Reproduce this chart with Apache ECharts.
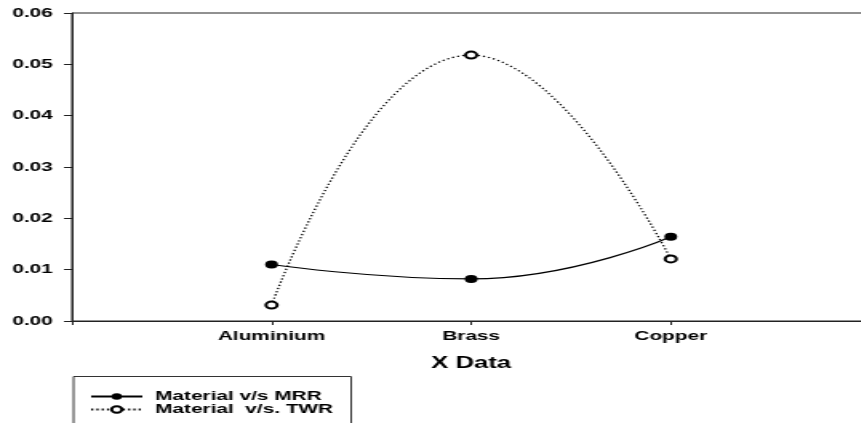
<!DOCTYPE html>
<html>
<head>
<meta charset="utf-8">
<script src="https://cdn.jsdelivr.net/npm/echarts@6/dist/echarts.min.js"></script>
<style>
  html, body { margin: 0; padding: 0; background: #fff; overflow: hidden; }
  /* the original picture is stretched sideways, so draw narrow and stretch */
  #main { width: 538px; height: 423px; transform: scaleX(1.6); transform-origin: 0 0; }
</style>
</head>
<body>
<div id="main"></div>
<script>
// data
var categories = ['Aluminium', 'Brass', 'Copper'];
var mrrValues = [0.0110, 0.0082, 0.0164];
var twrValues = [0.0031, 0.0518, 0.0121];
var yTicks = [0, 0.01, 0.02, 0.03, 0.04, 0.05, 0.06];

var font = 'Liberation Sans, Arial, sans-serif';

function toPoints(vals) {
    return vals.map(function (v, i) { return [i + 1, v]; });
}

var myChart = echarts.init(document.getElementById('main'));

var option = {
    animation: false,
    backgroundColor: '#fff',
    grid: {
        left: 45,
        top: 13,
        bottom: 102,
        width: 499,
        outerBoundsMode: 'none',
        show: true,
        borderColor: '#222',
        borderWidth: 1
    },
    // legend frame runs off the bottom edge like in the original
    graphic: [{
        type: 'polyline',
        z: 100,
        silent: true,
        shape: { points: [[46, 430], [46, 376.5], [219.5, 376.5], [219.5, 430]] },
        style: { fill: null, stroke: '#333', lineWidth: 1 }
    }],
    legend: {
        orient: 'vertical',
        left: 46,
        top: 376,
        height: 80,
        padding: [14, 12, 4, 10],
        itemWidth: 32,
        itemHeight: 8,
        itemGap: 0,
        textStyle: { fontFamily: font, fontSize: 13, fontWeight: 'bold', color: '#000', padding: [0, 0, 0, 3] },
        data: ['Material v/s MRR', 'Material  v/s. TWR']
    },
    xAxis: {
        type: 'value',
        min: 0,
        max: 4,
        interval: 1,
        name: 'X Data',
        nameLocation: 'middle',
        nameGap: 35,
        nameTextStyle: { fontFamily: font, fontSize: 16, fontWeight: 'bold', color: '#000' },
        axisLine: { lineStyle: { color: '#222', width: 1 } },
        axisTick: { length: 4, lineStyle: { color: '#222' } },
        axisLabel: {
            margin: 9,
            fontFamily: font, fontSize: 13, fontWeight: 'bold', color: '#000',
            formatter: function (v) { return categories[v - 1] || ''; }
        },
        splitLine: { show: false }
    },
    yAxis: {
        type: 'value',
        min: yTicks[0],
        max: yTicks[yTicks.length - 1],
        interval: 0.01,
        axisLine: { show: true, lineStyle: { color: '#222', width: 1 } },
        axisTick: { show: true, length: 5, lineStyle: { color: '#222' } },
        axisLabel: {
            margin: 12,
            fontFamily: font, fontSize: 13, fontWeight: 'bold', color: '#000',
            formatter: function (v) { return v.toFixed(2); }
        },
        splitLine: { show: false }
    },
    series: [
        {
            name: 'Material v/s MRR',
            type: 'line',
            smooth: 0.5,
            data: toPoints(mrrValues),
            symbol: 'circle',
            symbolSize: 8,
            itemStyle: { color: '#000' },
            lineStyle: { color: '#000', width: 1.2 }
        },
        {
            name: 'Material  v/s. TWR',
            type: 'line',
            smooth: 0.5,
            data: toPoints(twrValues),
            symbol: 'emptyCircle',
            symbolSize: 7,
            itemStyle: { color: '#000', borderWidth: 1.2 },
            lineStyle: { color: '#000', width: 1.3, type: [1.3, 2] }
        }
    ]
};

myChart.setOption(option);
</script>
</body>
</html>
